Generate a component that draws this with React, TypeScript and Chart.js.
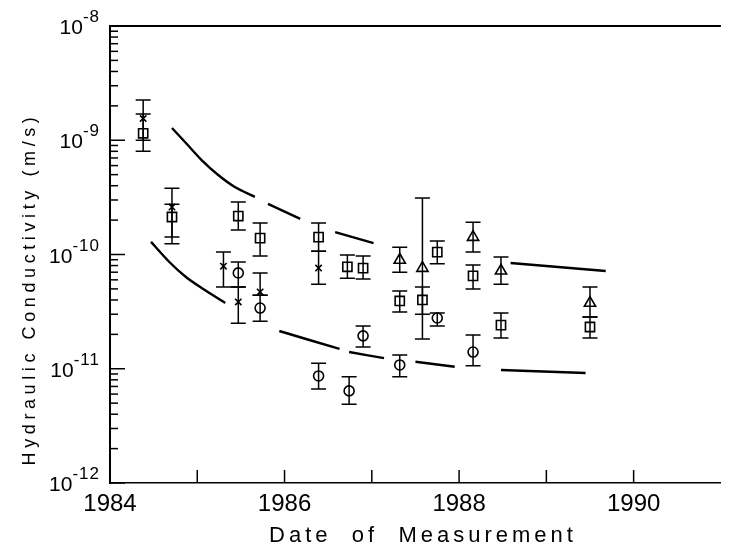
import React, { useEffect, useRef } from 'react';
import { Chart, registerables } from 'chart.js';

Chart.register(...registerables);

// ---------- data ----------
const yearTicks = [1984, 1985, 1986, 1987, 1988, 1989, 1990, 1991];
const yearLabels = ['1984', '1986', '1988', '1990'];
const decadeExponents = [-12, -11, -10, -9, -8];
const xTitle = 'Date  of  Measurement';
const yTitle = 'Hydraulic Conductivity (m/s)';

const squareYears = [1984.38, 1984.71, 1985.47, 1985.72, 1986.39, 1986.72, 1986.9, 1987.32, 1987.58, 1987.75, 1988.16, 1988.48, 1989.5];
const squareValues = [1.15e-9, 2.13e-10, 2.17e-10, 1.39e-10, 1.42e-10, 7.8e-11, 7.6e-11, 3.92e-11, 4.0e-11, 1.05e-10, 6.5e-11, 2.41e-11, 2.32e-11];
const squareLow = [8.0e-10, 1.24e-10, 1.64e-10, 9.7e-11, 1.07e-10, 6.2e-11, 6.1e-11, 3.14e-11, 3.0e-11, 8.3e-11, 5.0e-11, 1.86e-11, 1.86e-11];
const squareHigh = [1.7e-9, 2.75e-10, 2.88e-10, 1.89e-10, 1.89e-10, 9.9e-11, 9.7e-11, 4.8e-11, 5.2e-11, 1.31e-10, 8.1e-11, 3.08e-11, 2.84e-11];

const circleYears = [1985.47, 1985.72, 1986.39, 1986.74, 1986.9, 1987.32, 1987.75, 1988.16];
const circleValues = [6.9e-11, 3.4e-11, 8.65e-12, 6.4e-12, 1.94e-11, 1.08e-11, 2.78e-11, 1.4e-11];
const circleLow = [5.2e-11, 2.6e-11, 6.66e-12, 4.9e-12, 1.55e-11, 8.5e-12, 2.37e-11, 1.06e-11];
const circleHigh = [8.6e-11, 4.4e-11, 1.12e-11, 8.5e-12, 2.37e-11, 1.32e-11, 3.08e-11, 1.97e-11];

const crossYears = [1984.38, 1984.71, 1985.3, 1985.47, 1985.72, 1986.39];
const crossValues = [1.55e-9, 2.6e-10, 7.9e-11, 3.84e-11, 4.7e-11, 7.6e-11];
const crossLow = [1.0e-9, 1.42e-10, 5.2e-11, 2.5e-11, 4.4e-11, 5.5e-11];
const crossHigh = [2.25e-9, 3.8e-10, 1.05e-10, 5.2e-11, 6.9e-11, 1.07e-10];

const triangleYears = [1987.32, 1987.58, 1988.16, 1988.48, 1989.5];
const triangleValues = [8.95e-11, 7.6e-11, 1.42e-10, 7.2e-11, 3.76e-11];
const triangleLow = [7.0e-11, 1.82e-11, 1.05e-10, 5.5e-11, 2.84e-11];
const triangleHigh = [1.16e-10, 3.12e-10, 1.92e-10, 9.5e-11, 5.2e-11];

// dashed envelope curves (null = gap between dashes)
const upperCurveYears = [1984.71, 1984.87, 1985.05, 1985.24, 1985.43, 1985.66, 1985.73, 1985.81, 1986.18, 1986.38, 1986.58, 1987.02, 1987.8, 1988.59, 1989.68];
const upperCurveValues = [1.28e-9, 9.46e-10, 6.71e-10, 4.96e-10, 3.9e-10, 3.19e-10, null, 2.77e-10, 2.05e-10, null, 1.57e-10, 1.26e-10, null, 8.43e-11, 7.18e-11];
const lowerCurveYears = [1984.47, 1984.68, 1984.87, 1985.05, 1985.32, 1985.63, 1985.94, 1986.63, 1986.68, 1986.74, 1987.14, 1987.32, 1987.5, 1987.95, 1988.2, 1988.48, 1989.45];
const lowerCurveValues = [1.29e-10, 8.6e-11, 6.35e-11, 5.09e-11, 3.77e-11, null, 2.14e-11, 1.49e-11, null, 1.4e-11, 1.24e-11, null, 1.15e-11, 1.04e-11, null, 9.75e-12, 9.18e-12];

const FONT = '"Liberation Sans", Arial, sans-serif';

const pts = (xs: number[], ys: (number | null)[]) => xs.map((x, i) => ({ x, y: ys[i] }));

const errorSeries = [
  { years: squareYears, low: squareLow, high: squareHigh },
  { years: circleYears, low: circleLow, high: circleHigh },
  { years: crossYears, low: crossLow, high: crossHigh },
  { years: triangleYears, low: triangleLow, high: triangleHigh },
];

const decorPlugin = {
  id: 'decor',
  afterDatasetsDraw(chart: any) {
    const { ctx, scales } = chart;
    const xs = scales.x;
    const ys = scales.y;
    ctx.save();
    ctx.strokeStyle = '#000';
    ctx.lineWidth = 1.5;
    for (const s of errorSeries) {
      s.years.forEach((yr: number, i: number) => {
        const px = xs.getPixelForValue(yr);
        const y1 = ys.getPixelForValue(s.low[i]);
        const y2 = ys.getPixelForValue(s.high[i]);
        ctx.beginPath();
        ctx.moveTo(px, y1);
        ctx.lineTo(px, y2);
        ctx.moveTo(px - 7.5, y1);
        ctx.lineTo(px + 7.5, y1);
        ctx.moveTo(px - 7.5, y2);
        ctx.lineTo(px + 7.5, y2);
        ctx.stroke();
      });
    }
    ctx.restore();
  },
  afterDraw(chart: any) {
    const { ctx, chartArea: a, scales } = chart;
    const xs = scales.x;
    const ys = scales.y;
    ctx.save();
    ctx.strokeStyle = '#000';
    ctx.fillStyle = '#000';
    // top frame line
    ctx.lineWidth = 2;
    ctx.beginPath();
    ctx.moveTo(a.left, a.top);
    ctx.lineTo(a.right, a.top);
    ctx.stroke();
    // y ticks (inward)
    ctx.lineWidth = 1.5;
    for (const e of decadeExponents) {
      for (let m = 1; m <= 9; m++) {
        if (e === -8 && m > 1) break;
        const py = ys.getPixelForValue(m * Math.pow(10, e));
        const len = m === 1 ? 15 : 8;
        ctx.beginPath();
        ctx.moveTo(a.left, py);
        ctx.lineTo(a.left + len, py);
        ctx.stroke();
      }
    }
    // x ticks (inward)
    for (const yr of yearTicks) {
      if (yr <= xs.min || yr >= xs.max) continue;
      const px = xs.getPixelForValue(yr);
      ctx.beginPath();
      ctx.moveTo(px, a.bottom);
      ctx.lineTo(px, a.bottom - 13);
      ctx.stroke();
    }
    // y labels 10^e
    for (const e of decadeExponents) {
      const py = ys.getPixelForValue(Math.pow(10, e));
      const exp = String(e);
      ctx.font = `17px ${FONT}`;
      ctx.textBaseline = 'alphabetic';
      ctx.textAlign = 'right';
      (ctx as any).letterSpacing = '1px';
      const ew = ctx.measureText(exp).width;
      ctx.fillText(exp, 100, py - 4);
      (ctx as any).letterSpacing = '0px';
      ctx.font = `21px ${FONT}`;
      ctx.fillText('10', 100 - ew, py + 8);
    }
    // axis titles
    ctx.textAlign = 'center';
    ctx.textBaseline = 'middle';
    (ctx as any).letterSpacing = '4px';
    ctx.font = `22px ${FONT}`;
    ctx.fillText(xTitle, 423, 536);
    ctx.save();
    ctx.translate(30, 289);
    ctx.rotate(-Math.PI / 2);
    (ctx as any).letterSpacing = '4.6px';
    ctx.font = `18px ${FONT}`;
    ctx.fillText(yTitle, 0, 0);
    ctx.restore();
    ctx.restore();
  },
};

export default function App() {
  const ref = useRef<HTMLCanvasElement>(null);
  useEffect(() => {
    if (!ref.current) return;
    const markerBase = {
      type: 'scatter' as const,
      borderColor: '#000',
      backgroundColor: 'rgba(0,0,0,0)',
      borderWidth: 1.6,
      showLine: false,
    };
    const curveBase = {
      type: 'scatter' as const,
      showLine: true,
      borderColor: '#000',
      borderWidth: 2.4,
      pointRadius: 0,
      tension: 0.3,
      spanGaps: false,
    };
    const chart = new Chart(ref.current, {
      type: 'scatter',
      data: {
        datasets: [
          { ...curveBase, label: 'upper', data: pts(upperCurveYears, upperCurveValues) },
          { ...curveBase, label: 'lower', data: pts(lowerCurveYears, lowerCurveValues) },
          { ...markerBase, label: 'square', pointStyle: 'rect', pointRadius: 6.5, data: pts(squareYears, squareValues) },
          { ...markerBase, label: 'circle', pointStyle: 'circle', pointRadius: 5, data: pts(circleYears, circleValues) },
          { ...markerBase, label: 'cross', pointStyle: 'crossRot', pointRadius: 4.5, data: pts(crossYears, crossValues) },
          { ...markerBase, label: 'triangle', pointStyle: 'triangle', pointRadius: 6.5, data: pts(triangleYears, triangleValues) },
        ] as any,
      },
      options: {
        responsive: false,
        animation: false,
        events: [],
        layout: { padding: { top: 26, left: 0, right: 0, bottom: 0 } },
        plugins: { legend: { display: false }, tooltip: { enabled: false } },
        scales: {
          x: {
            type: 'linear',
            min: 1984,
            max: 1991,
            grid: { display: false, drawTicks: false },
            border: { display: true, color: '#000', width: 1.5 },
            ticks: {
              stepSize: 1,
              autoSkip: false,
              maxRotation: 0,
              color: '#000',
              padding: 7,
              font: { family: FONT, size: 24 },
              callback: (v: any) => (yearLabels.includes(String(v)) ? String(v) : ''),
            },
            afterFit: (s: any) => { s.height = 65; },
          },
          y: {
            type: 'logarithmic',
            min: 1e-12,
            max: 1e-8,
            grid: { display: false, drawTicks: false },
            border: { display: true, color: '#000', width: 2 },
            ticks: { display: false },
            afterFit: (s: any) => { s.width = 110; },
          },
        },
      } as any,
      plugins: [decorPlugin],
    });
    return () => chart.destroy();
  }, []);
  return (
    <div style={{ position: 'absolute', left: 0, top: 0, width: 729, height: 548, background: '#fff' }}>
      <canvas ref={ref} width={729} height={548} style={{ display: 'block' }} />
    </div>
  );
}
